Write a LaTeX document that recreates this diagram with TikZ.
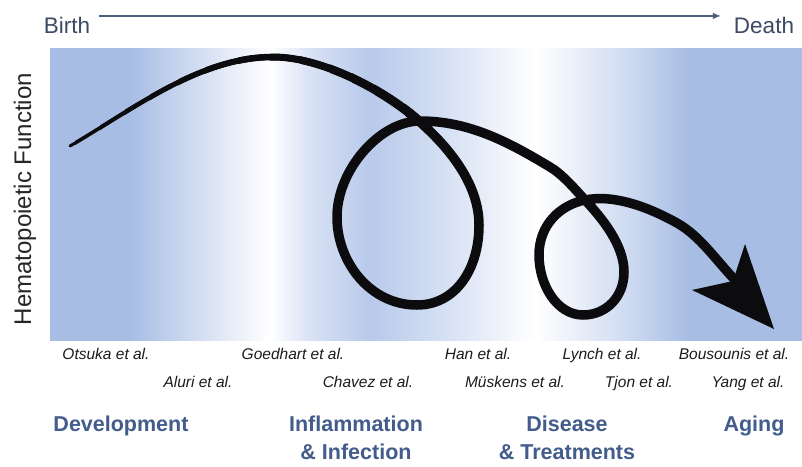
\documentclass[tikz,border=0pt]{standalone}
\usepackage{fontspec}
\setmainfont{Liberation Sans}
\usetikzlibrary{arrows.meta}
\definecolor{bgblue}{RGB}{168,189,228}
\definecolor{bgmid}{RGB}{184,201,234}
\definecolor{bglight}{RGB}{216,226,244}
\definecolor{catblue}{RGB}{66,92,140}
\definecolor{topgray}{RGB}{60,74,100}
\definecolor{linegray}{RGB}{74,94,128}
\definecolor{reftext}{RGB}{28,28,28}
\definecolor{ink}{RGB}{12,12,14}
\pgfdeclarehorizontalshading{bgshade}{100bp}{color(0bp)=(bgblue); color(25bp)=(bgblue); color(30.3bp)=(bgblue); color(39.6bp)=(white); color(42.3bp)=(bglight); color(46.3bp)=(bgmid); color(51.6bp)=(bglight); color(57.3bp)=(white); color(62.3bp)=(bglight); color(67.5bp)=(bgblue); color(75bp)=(bgblue); color(100bp)=(bgblue)}
\newcommand\headstroke[1]{\draw[ink, line width=#1pt, line cap=round] (p0) .. controls (135,108) and (200,57) .. (p1) .. controls (323,57) and (387,92) .. (p2);}
\begin{document}
\begin{tikzpicture}[x=1pt,y=-1pt,
  toplabel/.style={inner sep=0pt, anchor=base, text=topgray, font=\fontsize{22.5}{26}\selectfont},
  reflabel/.style={inner sep=0pt, anchor=base, text=reftext, font=\fontsize{15.5}{18}\selectfont\itshape},
  catlabel/.style={inner sep=0pt, anchor=north, align=center, text=catblue, font=\fontsize{21.5}{28}\selectfont\bfseries},
  stroke/.style={ink, line width=9.5pt, line cap=round, line join=round}]
\useasboundingbox (0,0) rectangle (802,466);
\fill[white] (0,0) rectangle (802,466);
% panel
\shade[shading=bgshade] (50,48) rectangle (802,340);
% time axis
\node[toplabel] (birth) at (67,33) {Birth};
\node[toplabel] (death) at (764,33) {Death};
\draw[linegray, line width=2.8pt, -{Latex[length=8pt,width=7pt]}, shorten <=9pt, shorten >=13pt] (birth.east) ++(0,-9) coordinate (b0) (b0) -- (b0 -| death.west);
% y label
\node[rotate=90, anchor=base, inner sep=0pt, text=black!85, font=\fontsize{24}{28}\selectfont] (ylab) at (31,199) {Hematopoietic Function};
% curve points
\coordinate (p0) at (70,146);
\coordinate (p1) at (273,57);
\coordinate (p2) at (420,122);
\coordinate (p3) at (479,225);
\coordinate (p4) at (417,305);
\coordinate (p5) at (337,217);
\coordinate (p6) at (420,121);
\coordinate (p7) at (550,167);
\coordinate (p8) at (585,200);
\coordinate (p9) at (624,272);
\coordinate (p10) at (583,315);
\coordinate (p11) at (539,255);
\coordinate (p12) at (585,200);
\coordinate (p13) at (677,223);
\coordinate (p14) at (735,280);
% tapered beginning
\foreach \w/\xc in {3/0, 3.5/75, 4/100, 4.5/125, 5/150, 5.5/178, 6/205, 6.5/238, 7/270, 7.5/300, 8/330, 8.5/352, 9/375, 9.5/405}{
  \begin{scope}
    \clip (\xc,0) rectangle (802,466);
    \headstroke{\w}
  \end{scope}
}
% rest of the spiral
\draw[stroke] (p2) .. controls (446,145) and (479,182) .. (p3)
  .. controls (479,270) and (455,305) .. (p4)
  .. controls (370,305) and (337,262) .. (p5)
  .. controls (337,170) and (380,121) .. (p6)
  .. controls (470,121) and (510,143) .. (p7)
  .. controls (562,174) and (574,188) .. (p8)
  .. controls (602,218) and (624,245) .. (p9)
  .. controls (624,297) and (606,315) .. (p10)
  .. controls (557,315) and (539,285) .. (p11)
  .. controls (539,225) and (560,205) .. (p12)
  .. controls (615,194) and (650,208) .. (p13)
  .. controls (700,236) and (715,259) .. (p14);
% arrow head
\coordinate (hl) at (692,290);
\coordinate (hn) at (733,281);
\coordinate (ht) at (745,244);
\coordinate (tip) at (774,329);
\fill[ink] (hl) -- (hn) -- (ht) -- (tip) -- cycle;
% references
\node[reflabel] (otsuka) at (106,359.5) {Otsuka et al.};
\node[reflabel] (goedhart) at (293,359.5) {Goedhart et al.};
\node[reflabel] (han) at (478,359.5) {Han et al.};
\node[reflabel] (lynch) at (602,359.5) {Lynch et al.};
\node[reflabel] (bousounis) at (734,359.5) {Bousounis et al.};
\node[reflabel] (aluri) at (198,387.5) {Aluri et al.};
\node[reflabel] (chavez) at (368,387.5) {Chavez et al.};
\node[reflabel] (muskens) at (515,387.5) {Müskens et al.};
\node[reflabel] (tjon) at (639,387.5) {Tjon et al.};
\node[reflabel] (yang) at (748,387.5) {Yang et al.};
% categories
\node[catlabel] (dev) at (121,416) {Development};
\node[catlabel] (infl) at (356,416) {Inflammation\\\& Infection};
\node[catlabel] (dis) at (567,416) {Disease\\\& Treatments};
\node[catlabel] (aging) at (754,416) {Aging};
\end{tikzpicture}
\end{document}
